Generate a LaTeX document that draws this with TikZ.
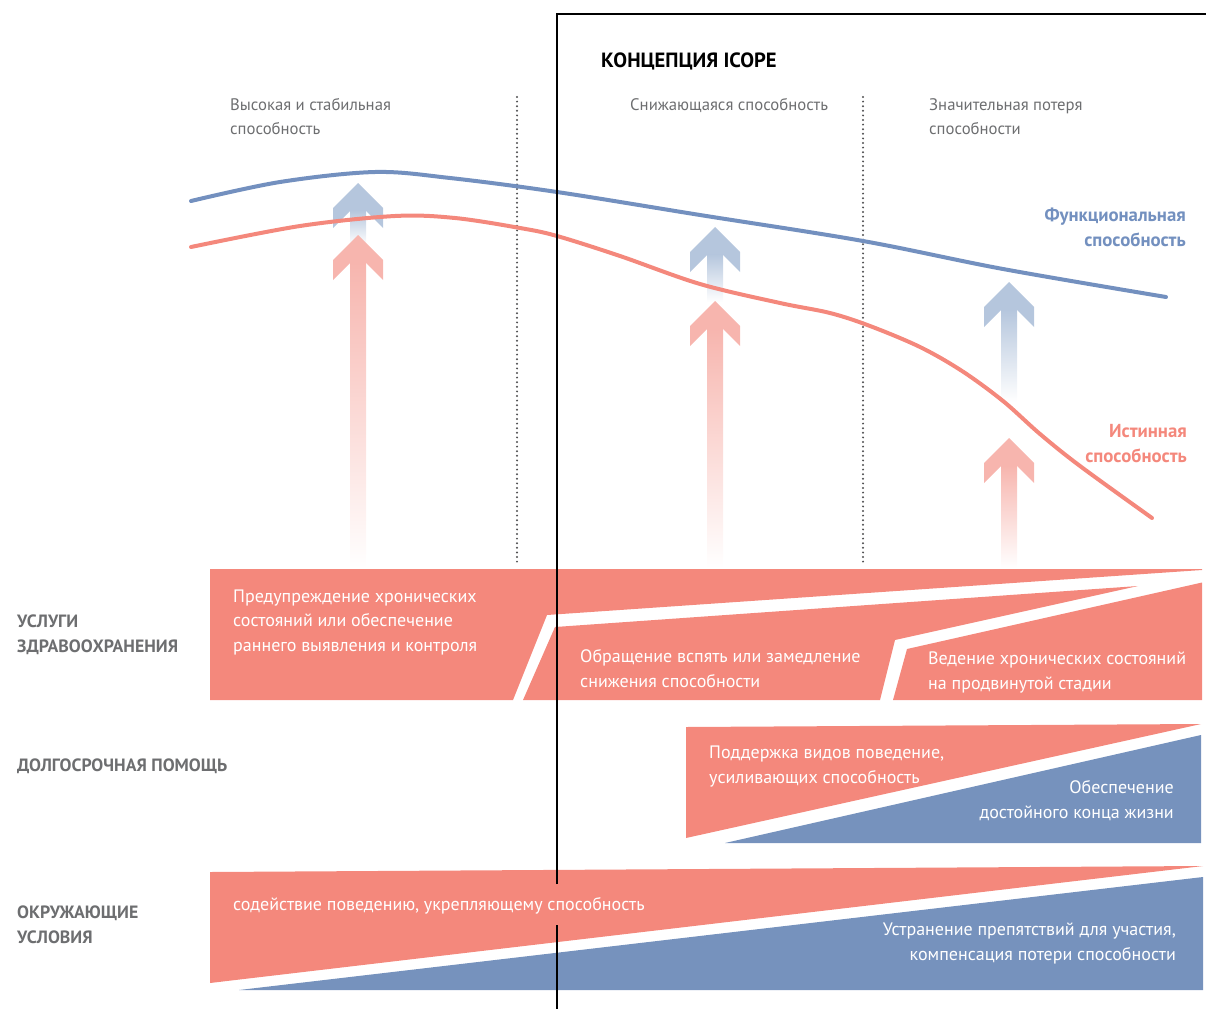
\documentclass[tikz,border=0pt]{standalone}
\usepackage{fontspec}
\setmainfont{PT Sans}
\definecolor{salmon}{HTML}{F4887C}
\definecolor{bandblue}{HTML}{7692BD}
\definecolor{curveblue}{HTML}{7390BF}
\definecolor{curvepink}{HTML}{F4887C}
\definecolor{lightblue}{HTML}{B5C6DD}
\definecolor{lightpink}{HTML}{F7B5AE}
\definecolor{greytext}{HTML}{6D6E70}
\definecolor{dotgrey}{HTML}{505052}
\newcommand\headarrow[4]{% x, tip y, colour, shaft end y
  \fill[#3] (#1,#2) -- ++(-25,25) -- ++(0,20) -- ++(17,-17) -- ++(16,0) -- ++(17,17) -- ++(0,-20) -- cycle;
  \shade[top color=#3, bottom color=white] (#1-8,#2+27.5) rectangle (#1+8,#4);
}
\begin{document}
\begin{tikzpicture}[x=1pt,y=-1pt,
  bandtext/.style={text=white, inner sep=0pt, font=\fontsize{18}{24.5}\selectfont},
  sidelabel/.style={text=greytext, inner sep=0pt, font=\fontsize{17.8}{25}\selectfont\bfseries},
  phaselabel/.style={text=greytext, inner sep=0pt, font=\fontsize{16.7}{24}\selectfont},
  curvelabel/.style={inner sep=0pt, font=\fontsize{18.8}{25}\selectfont\bfseries},
  curve/.style={line width=4pt, line cap=round},
  dots/.style={dotgrey, line width=2.2pt, line cap=round, dash pattern=on 0pt off 4.6pt},
  frame/.style={black, line width=2.3pt}]
\useasboundingbox (0,0) rectangle (1206,1009);

% arrows
\headarrow{358}{183}{lightblue}{245}
\headarrow{358}{235}{lightpink}{568}
\headarrow{715}{227}{lightblue}{302}
\headarrow{715}{301}{lightpink}{568}
\headarrow{1009}{282}{lightblue}{402}
\headarrow{1009}{438}{lightpink}{568}

% dotted phase separators
\coordinate (d1t) at (517,97); \coordinate (d1b) at (517,566);
\coordinate (d2t) at (863,97); \coordinate (d2b) at (863,566);
\draw[dots] (d1t) -- (d1b);
\draw[dots] (d2t) -- (d2b);

% curves
\draw[curve, curveblue] plot[smooth, tension=0.55] coordinates {(191,201) (280,182) (375,172) (450,178) (557,192) (700,215) (863,241) (1003,269) (1166,297)};
\draw[curve, curvepink] plot[smooth, tension=0.55] coordinates {(191,247) (300,226) (395,216) (455,218) (520,228) (557,236) (620,256) (700,284) (780,303) (830,313) (870,326) (920,347) (962,371) (1003,401) (1040,434) (1080,466) (1152,518)};

% health services band
\fill[salmon] (210,569) -- (1202,569) -- (1202,570) -- (547,615) -- (513,700) -- (210,700) -- cycle;
\fill[salmon] (555,627) -- (1138,586) -- (895,640) -- (880,700) -- (523,700) -- cycle;
\fill[salmon] (907,649) -- (1202,582.5) -- (1202,700) -- (893,700) -- cycle;

% long-term care band
\fill[salmon] (686,727) -- (1201,724) -- (686,838) -- cycle;
\fill[bandblue] (725,843) -- (1201,735) -- (1201,843) -- cycle;

% environments band
\fill[salmon] (210,872) -- (1203,866) -- (210,983) -- cycle;
\fill[bandblue] (239,990) -- (1203,877) -- (1203,990) -- cycle;

% frame
\coordinate (fa) at (557,884); \coordinate (fb) at (557,14); \coordinate (fc) at (1206,14);
\coordinate (fd) at (557,925); \coordinate (fe) at (557,1009);
\draw[frame] (fa) -- (fb) -- (fc);
\draw[frame] (fd) -- (fe);

% title and phase labels
\node[inner sep=0pt, anchor=base west, font=\fontsize{20.6}{24}\selectfont\bfseries] (title) at (601,67) {КОНЦЕПЦИЯ ICOPE};
\node[phaselabel, anchor=base west, align=left] (p1) at (230,134) {Высокая и стабильная\\способность};
\node[phaselabel, anchor=base west, align=left] (p2) at (630,110) {Снижающаяся способность};
\node[phaselabel, anchor=base west, align=left] (p3) at (929,134) {Значительная потеря\\способности};

% curve labels
\node[curvelabel, text=curveblue, anchor=base east, align=right] (lf) at (1186,246) {Функциональная\\способность};
\node[curvelabel, text=curvepink, anchor=base east, align=right] (li) at (1187,462) {Истинная\\способность};

% side labels
\node[sidelabel, anchor=base west, align=left] (s1) at (17,652) {УСЛУГИ\\ЗДРАВООХРАНЕНИЯ};
\node[sidelabel, anchor=base west, align=left] (s2) at (17,771) {ДОЛГОСРОЧНАЯ ПОМОЩЬ};
\node[sidelabel, anchor=base west, align=left] (s3) at (17,943) {ОКРУЖАЮЩИЕ\\УСЛОВИЯ};

% band texts
\node[bandtext, anchor=base west, align=left] (h1) at (233,651) {Предупреждение хронических\\состояний или обеспечение\\раннего выявления и контроля};
\node[bandtext, anchor=base west, align=left] (h2) at (580,687) {Обращение вспять или замедление\\снижения способности};
\node[bandtext, anchor=base west, align=left] (h3) at (928,689) {Ведение хронических состояний\\на продвинутой стадии};
\node[bandtext, anchor=base west, align=left] (c1) at (709,783) {Поддержка видов поведение,\\усиливающих способность};
\node[bandtext, anchor=base east, align=right] (c2) at (1174,818) {Обеспечение\\достойного конца жизни};
\node[bandtext, anchor=base west, align=left] (e1) at (233,910) {содействие поведению, укрепляющему способность};
\node[bandtext, anchor=base east, align=right] (e2) at (1176,960) {Устранение препятствий для участия,\\компенсация потери способности};
\end{tikzpicture}
\end{document}
